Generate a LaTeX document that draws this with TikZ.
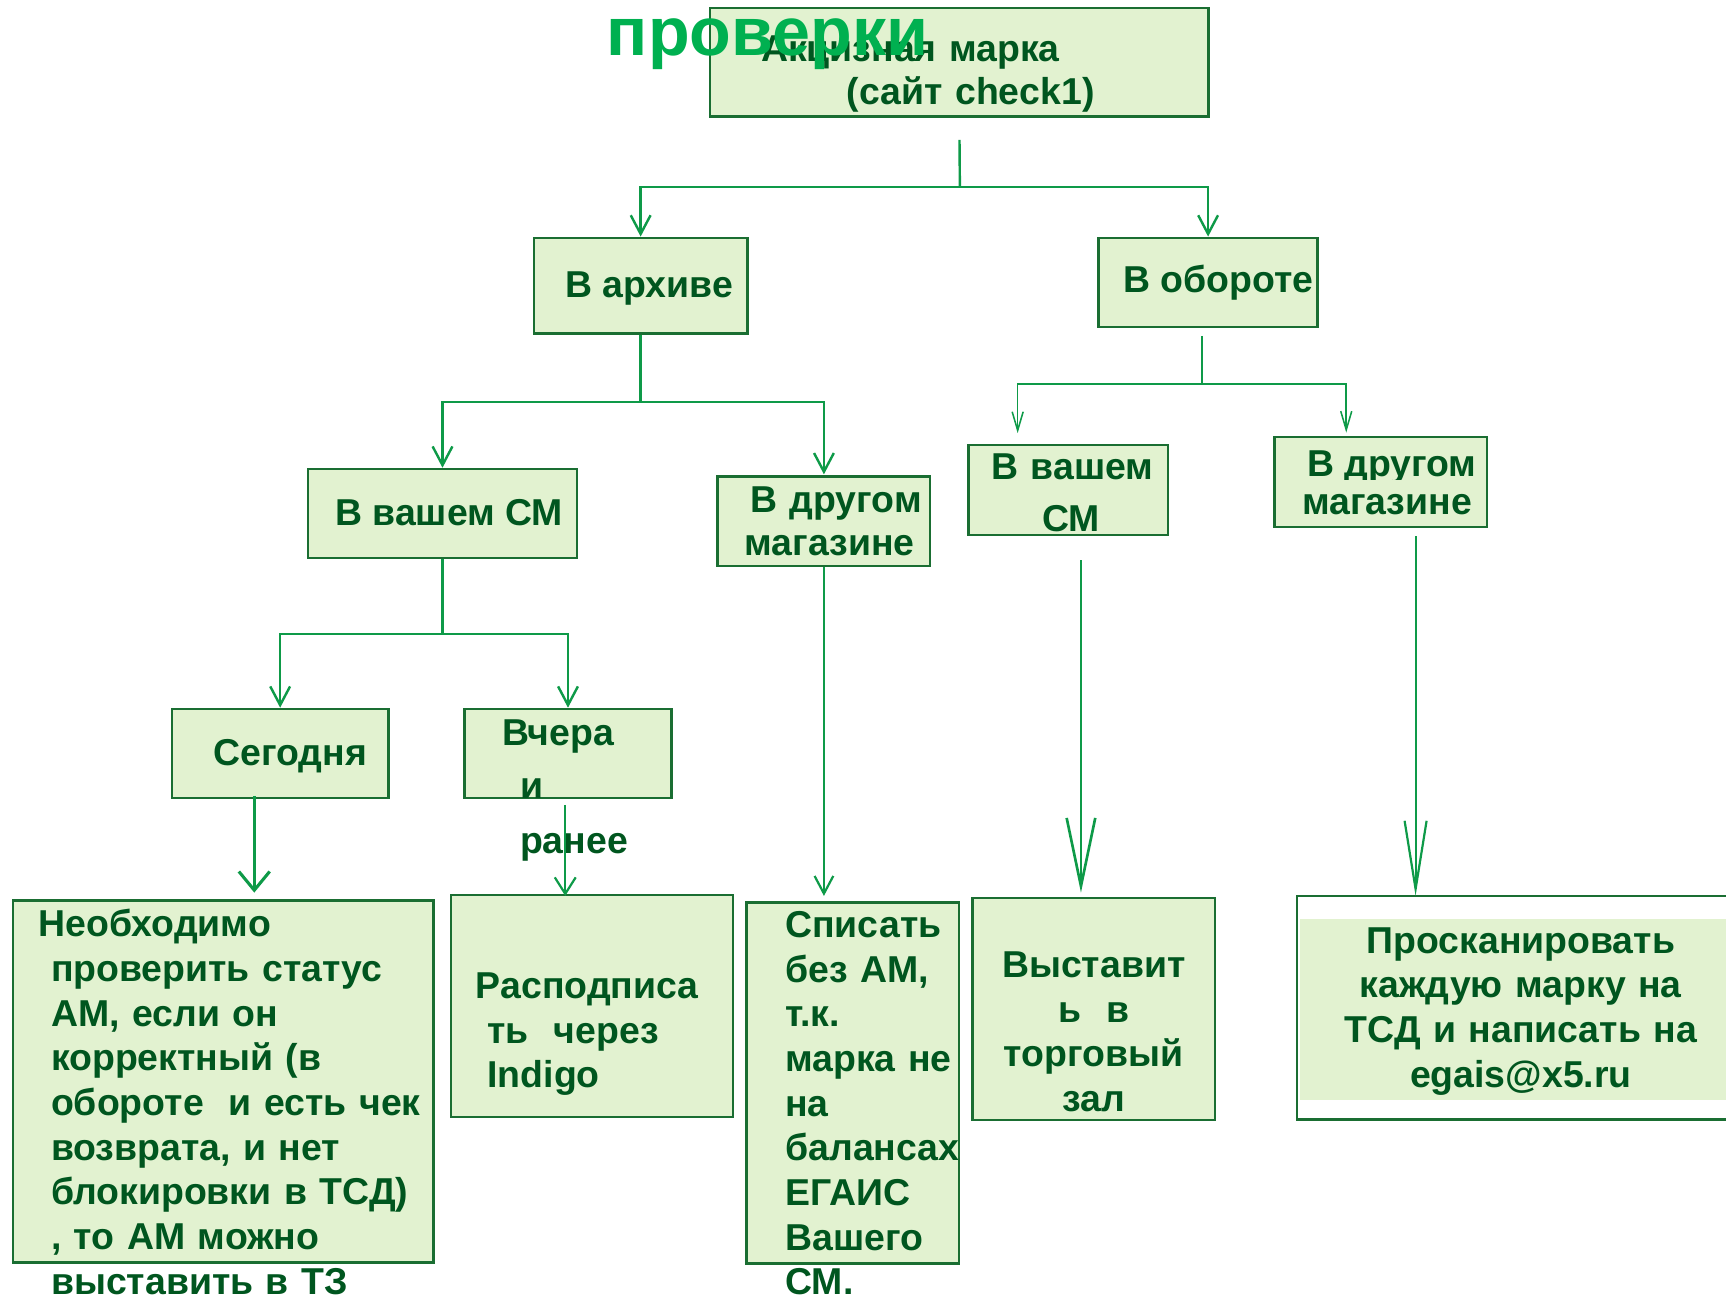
\documentclass[tikz,border=0pt]{standalone}
\usepackage{fontspec}
\setmainfont{Liberation Sans}
\usetikzlibrary{arrows.meta}

\definecolor{boxfill}{HTML}{E2F2D0}
\definecolor{boxline}{HTML}{1A6E32}
\definecolor{linegreen}{HTML}{0E9A48}
\definecolor{textgreen}{HTML}{00561F}
\definecolor{titlegreen}{HTML}{00B050}

\begin{document}
\begin{tikzpicture}[x=0.5pt, y=-0.5pt,
    box/.style={rectangle, draw=boxline, fill=boxfill, line width=1.1pt, inner sep=0pt},
    txt/.style={inner sep=0pt, text=textgreen, font=\bfseries\fontsize{17pt}{20.3pt}\selectfont},
    conn/.style={draw=linegreen, line width=1.1pt},
    arr/.style={conn, -{Straight Barb[length=8.5pt, width=9pt]}},
    thinarr/.style={draw=linegreen, line width=0.7pt, -{Straight Barb[length=8.5pt, width=5pt]}},
    longarr/.style={draw=linegreen, line width=1.2pt, -{Straight Barb[length=31pt, width=#1]}}]
        \useasboundingbox (0,0) rectangle (1568,1180);

        % boxes
        \node[box, minimum width=226.5pt, minimum height=49.5pt] (mark) at (871.5,56.5) {};
        \node[box, minimum width=97pt, minimum height=43.5pt] (archive) at (582,259.5) {};
        \node[box, minimum width=99.5pt, minimum height=40.5pt] (turnover) at (1097.5,256.5) {};
        \node[box, minimum width=122pt, minimum height=40.5pt] (archSM) at (402,466.5) {};
        \node[box, minimum width=96.5pt, minimum height=40.5pt] (archOther) at (748.5,473.5) {};
        \node[box, minimum width=90.5pt, minimum height=41pt] (turnSM) at (970.5,445) {};
        \node[box, minimum width=96.5pt, minimum height=41pt] (turnOther) at (1254.5,438) {};
        \node[box, minimum width=98.5pt, minimum height=40.5pt] (today) at (254.5,684.5) {};
        \node[box, minimum width=94pt, minimum height=40.5pt] (earlier) at (516,684.5) {};
        \node[box, minimum width=191pt, minimum height=164.5pt] (checkAM) at (203,982.5) {};
        \node[box, minimum width=128.25pt, minimum height=100.75pt] (unsign) at (537.75,913.75) {};
        \node[box, minimum width=96.5pt, minimum height=164pt] (writeoff) at (774.5,984) {};
        \node[box, minimum width=110pt, minimum height=100.75pt] (display) at (993.6,916.75) {};
        \node[box, fill=white, minimum width=311pt, minimum height=101.5pt] (scan) at (1489,915.5) {};
        \fill[boxfill] (1181,835) rectangle (1800,999);

        % texts
        \node[txt, anchor=base west, text width=170pt, align=left] (markText) at (691,56) {Акцизная марка\\[-1pt]\hspace*{39pt}(сайт check1)};
        \node[txt, anchor=base west] (archiveText) at (513,270) {В архиве};
        \node[txt, anchor=base west] (turnoverText) at (1020,266) {В обороте};
        \node[txt, anchor=base west] (archSMText) at (304,477) {В вашем СМ};
        \node[txt, anchor=base west, text width=90pt, align=left] (archOtherText) at (676,466) {\hspace*{2.5pt}В другом\\[-1pt]магазине};
        \node[txt, anchor=base west, text width=90pt, align=left] (turnSMText) at (900,436) {В вашем\\[3.2pt]\hspace*{23.3pt}СМ};
        \begin{scope}
            \clip (1158,397) rectangle (1351,436);
            \node[txt, anchor=base west] (turnOtherTextA) at (1187,433) {В другом};
        \end{scope}
        \node[txt, anchor=base west] (turnOtherTextB) at (1182.5,467) {магазине};
        \node[txt, anchor=base west] (todayText) at (193.6,695) {Сегодня};
        \node[txt, anchor=base west, text width=80pt, align=left] (earlierText) at (472,677) {\hspace*{-8pt}Вчера\\[3.7pt]и\\[4.7pt]ранее};
        \node[txt, anchor=base west, text width=200pt, align=left] (checkText) at (46,851) {\hspace*{-5.5pt}Необходимо\\проверить статус\\АМ, если он\\корректный (в\\обороте\ \ и есть чек\\возврата, и нет\\блокировки в ТСД)\\, то АМ можно\\выставить в ТЗ};
        \node[txt, anchor=base west, text width=120pt, align=left] (unsignText) at (442.5,907) {\hspace*{-5.25pt}Расподписа\\ть\ \ через\\Indigo};
        \node[txt, anchor=base west, text width=90pt, align=left] (writeoffText) at (713,851.5) {Списать\\без АМ,\\т.к.\\марка не\\на\\балансах\\ЕГАИС\\Вашего\\СМ.};
        \node[txt, anchor=base, text width=100pt, align=center] (displayText) at (993.6,888) {Выставит\\ь\ \ в\\торговый\\зал};
        \node[txt, anchor=base, text width=180pt, align=center] (scanText) at (1381.6,866) {Просканировать\\каждую марку на\\ТСД и написать на\\egais@x5.ru};

        \node[inner sep=0pt, anchor=base west, text=titlegreen, font=\bfseries\fontsize{31pt}{37pt}\selectfont] (title) at (551,50) {проверки};

        % connectors
        \coordinate (markJ) at (872,170);
        \coordinate (archJ) at (582,365);
        \coordinate (turnJ) at (1092,349);
        \coordinate (smJ) at (402,576);
        \coordinate (turnSMTip) at (924.5,393.5);
        \coordinate (turnOtherTip) at (1223,393);

        \draw[conn, shorten <=10pt] (mark.south) -- (markJ);
        \draw[arr] (markJ) -| (archive.north);
        \draw[arr] (markJ) -| (turnover.north);

        \draw[conn] (archive.south) -- (archJ);
        \draw[arr] (archJ) -| (archSM.north);
        \draw[arr, shorten >=0.5pt] (archJ) -| (archOther.north);

        \draw[conn, line width=0.8pt, shorten <=3.5pt] (turnover.south -| turnJ) -- (turnJ);
        \draw[thinarr] (turnJ) -| (turnSMTip);
        \draw[thinarr] (turnJ) -| (turnOtherTip);

        \draw[conn] (archSM.south) -- (smJ);
        \draw[arr] (smJ) -| (today.north);
        \draw[arr] (smJ) -| (earlier.north);

        \draw[draw=linegreen, line width=1.4pt, -{Straight Barb[length=8.5pt, width=14pt]}, shorten <=-1.5pt, shorten >=3pt] ([xshift=-11.75pt]today.south) -- ([xshift=-11.75pt]today.south |- checkAM.north);
        \draw[draw=linegreen, line width=1pt, -{Straight Barb[length=7.5pt, width=9.5pt]}, shorten <=2.5pt, shorten >=-1pt] ([xshift=-1.25pt]earlier.south) -- ([xshift=-1.25pt]earlier.south |- unsign.north);
        \draw[draw=linegreen, line width=1pt, -{Straight Barb[length=8pt, width=8.5pt]}, shorten >=2.5pt] (archOther.south) -- (archOther.south |- writeoff.north);
        \draw[longarr=13pt, shorten <=11pt, shorten >=2pt] ([xshift=5.75pt]turnSM.south) -- ([xshift=5.75pt]turnSM.south |- display.north);
        \draw[longarr=10pt, line width=1pt, shorten <=3.5pt, shorten >=-0.5pt] ([xshift=15.75pt]turnOther.south) -- ([xshift=15.75pt]turnOther.south |- scan.north);
\end{tikzpicture}
\end{document}
